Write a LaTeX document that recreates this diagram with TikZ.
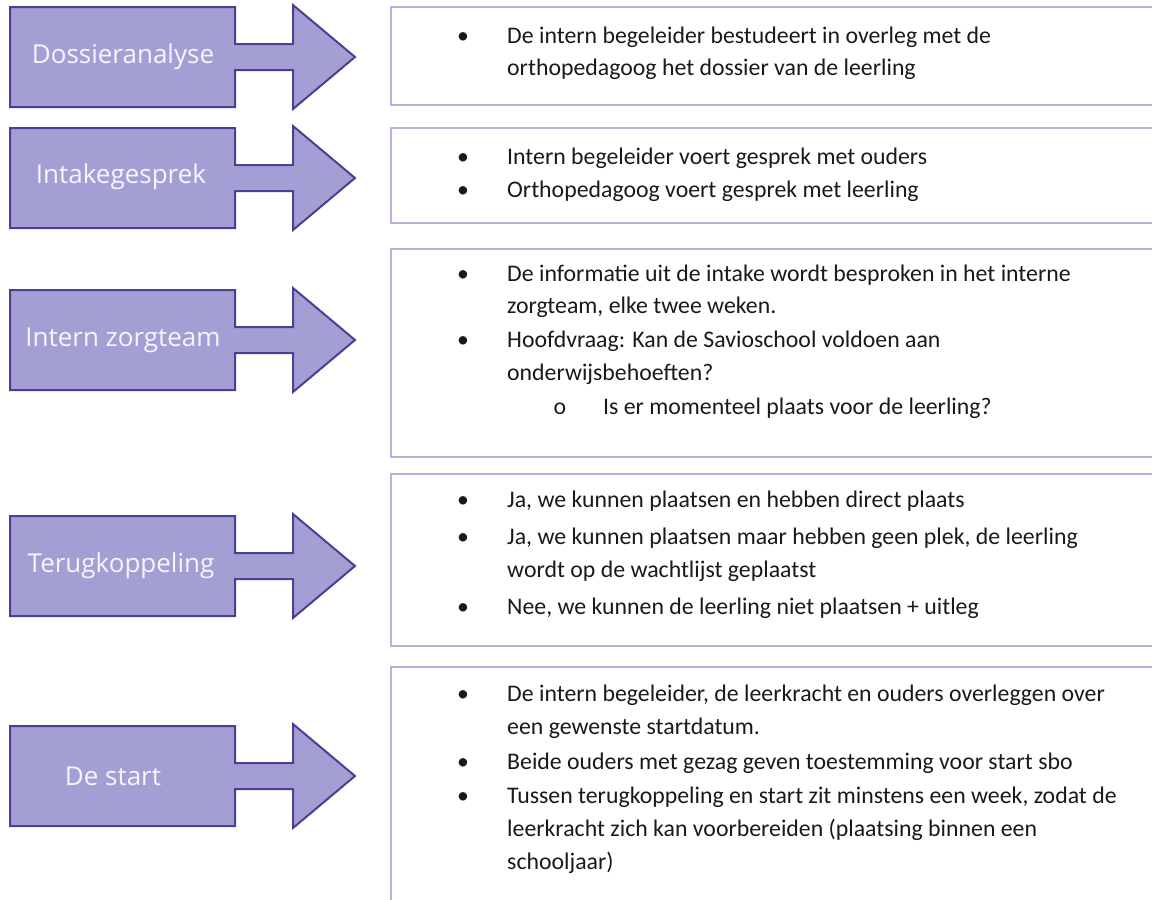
\documentclass[tikz,border=0pt]{standalone}
\usepackage{fontspec}
\setmainfont{Carlito}
\newfontfamily\labelfont{Open Sans}
\definecolor{afill}{RGB}{163,159,212}
\definecolor{aline}{RGB}{72,64,145}
\definecolor{bline}{RGB}{182,178,224}
\definecolor{btext}{RGB}{25,25,25}
\definecolor{ltext}{RGB}{246,245,252}
\begin{document}
\begin{tikzpicture}[x=1pt,y=-1pt,
  arrowshape/.style={draw=aline,fill=afill,line width=2pt,line join=miter},
  lbl/.style={font=\labelfont\fontsize{26}{30}\selectfont,text=ltext,inner sep=0},
  panel/.style={draw=bline,line width=1.3pt},
  body/.style={font=\fontsize{23.8}{28}\selectfont,text=btext,anchor=base west,inner sep=0},
  bul/.style={font=\fontsize{23.8}{28}\selectfont,text=btext,anchor=base,inner sep=0}]
\useasboundingbox (0,0) rectangle (1152,900);
\newcommand\stepArrow[1]{%
  \draw[arrowshape] (10,#1-50) -- (235,#1-50) -- (235,#1-13) -- (293,#1-13) -- (293,#1-52)
    -- (355,#1) -- (293,#1+52) -- (293,#1+13) -- (235,#1+13) -- (235,#1+50) -- (10,#1+50) -- cycle;}
% arrows
\stepArrow{57}
\stepArrow{178}
\stepArrow{340}
\stepArrow{566}
\stepArrow{776}
\node[lbl] (l1) at (123,57) {Dossieranalyse};
\node[lbl] (l2) at (121,177) {Intakegesprek};
\node[lbl] (l3) at (123,340) {Intern zorgteam};
\node[lbl] (l4) at (121,566) {Terugkoppeling};
\node[lbl] (l5) at (113,776) {De start};
% panels
\draw[panel] (391,7) rectangle (1165,105);
\draw[panel] (391,128) rectangle (1165,223);
\draw[panel] (391,249) rectangle (1165,457);
\draw[panel] (391,474) rectangle (1165,646);
\draw[panel] (391,667) rectangle (1165,915);
% panel 1
\node[bul] (b11) at (463,43) {•};
\node[body] (t11) at (507,43) {De intern begeleider bestudeert in overleg met de};
\node[body] (t12) at (507,75) {orthopedagoog het dossier van de leerling};
% panel 2
\node[bul] (b21) at (463,164) {•};
\node[body] (t21) at (507,164) {Intern begeleider voert gesprek met ouders};
\node[bul] (b22) at (463,197) {•};
\node[body] (t22) at (507,197) {Orthopedagoog voert gesprek met leerling};
% panel 3
\node[bul] (b31) at (463,281) {•};
\node[body] (t31) at (507,281) {De informatie uit de intake wordt besproken in het interne};
\node[body] (t32) at (507,313) {zorgteam, elke twee weken.};
\node[bul] (b32) at (463,347) {•};
\node[body] (t33) at (507,347) {Hoofdvraag: Kan de Savioschool voldoen aan};
\node[body] (t34) at (507,380) {onderwijsbehoeften?};
\node[bul] (b33) at (560,414) {o};
\node[body] (t35) at (603,414) {Is er momenteel plaats voor de leerling?};
% panel 4
\node[bul] (b41) at (463,507) {•};
\node[body] (t41) at (507,507) {Ja, we kunnen plaatsen en hebben direct plaats};
\node[bul] (b42) at (463,544) {•};
\node[body] (t42) at (507,544) {Ja, we kunnen plaatsen maar hebben geen plek, de leerling};
\node[body] (t43) at (507,577) {wordt op de wachtlijst geplaatst};
\node[bul] (b43) at (463,614) {•};
\node[body] (t44) at (507,614) {Nee, we kunnen de leerling niet plaatsen + uitleg};
% panel 5
\node[bul] (b51) at (463,701) {•};
\node[body] (t51) at (507,701) {De intern begeleider, de leerkracht en ouders overleggen over};
\node[body] (t52) at (507,734) {een gewenste startdatum.};
\node[bul] (b52) at (463,769) {•};
\node[body] (t53) at (507,769) {Beide ouders met gezag geven toestemming voor start sbo};
\node[bul] (b53) at (463,803) {•};
\node[body] (t54) at (507,803) {Tussen terugkoppeling en start zit minstens een week, zodat de};
\node[body] (t55) at (507,836) {leerkracht zich kan voorbereiden (plaatsing binnen een};
\node[body] (t56) at (507,869) {schooljaar)};
\end{tikzpicture}
\end{document}
